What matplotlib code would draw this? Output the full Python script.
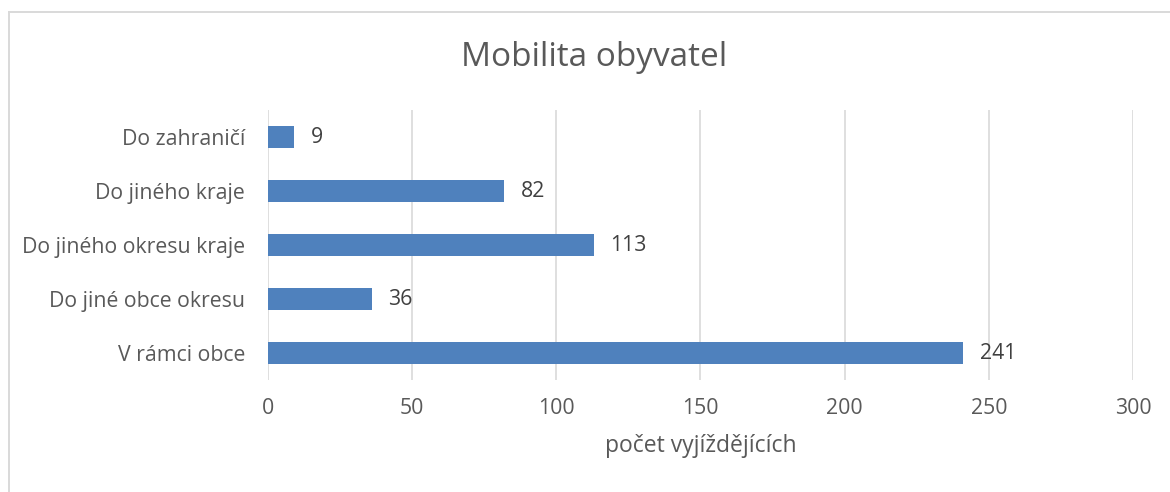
import matplotlib.pyplot as plt
from matplotlib.lines import Line2D

plt.rcParams['font.family'] = ['Open Sans', 'DejaVu Sans']

# data (bottom to top)
categories = ["V rámci obce", "Do jiné obce okresu", "Do jiného okresu kraje",
              "Do jiného kraje", "Do zahraničí"]
values = [241, 36, 113, 82, 9]
x_ticks = [0, 50, 100, 150, 200, 250, 300]

bar_color = "#4F81BD"
grid_color = "#D9D9D9"
text_color = "#595959"

fig = plt.figure(figsize=(11.7, 4.92), dpi=100)
ax = fig.add_axes([0.229, 0.2276, 0.9684 - 0.229, 0.7764 - 0.2276])

# chart border: only top and left edges are visible (picture is cropped)
bx, by = 8.5 / 1170, 1 - 11.5 / 492
fig.lines.append(Line2D([bx, 1], [by, by], transform=fig.transFigure,
                        color=grid_color, linewidth=1.4))
fig.lines.append(Line2D([bx, bx], [0, by], transform=fig.transFigure,
                        color=grid_color, linewidth=1.4))

ypos = range(len(categories))
ax.barh(ypos, values, height=0.41, color=bar_color, zorder=3)

for y, v in zip(ypos, values):
    ax.text(v + 5.8, y, str(v), va='center', ha='left', fontsize=15.3,
            color="#404040")

ax.set_xlim(0, 300)
ax.set_ylim(-0.5, len(categories) - 0.5)
ax.set_xticks(x_ticks)
ax.set_yticks(list(ypos))
ax.set_yticklabels(categories)
ax.tick_params(axis='both', length=0, labelsize=15.3, colors=text_color)
ax.tick_params(axis='x', pad=13)
ax.tick_params(axis='y', pad=16.5)
ax.grid(axis='x', color=grid_color, linewidth=1.2, zorder=0)
for s in ax.spines.values():
    s.set_visible(False)

ax.set_xlabel("počet vyjíždějících", fontsize=16.5, color=text_color, labelpad=11)
fig.text(594 / 1170, 1 - 57 / 492, "Mobilita obyvatel",
         ha='center', va='center', fontsize=24, color=text_color)

fig.savefig("out.png", dpi=100)
